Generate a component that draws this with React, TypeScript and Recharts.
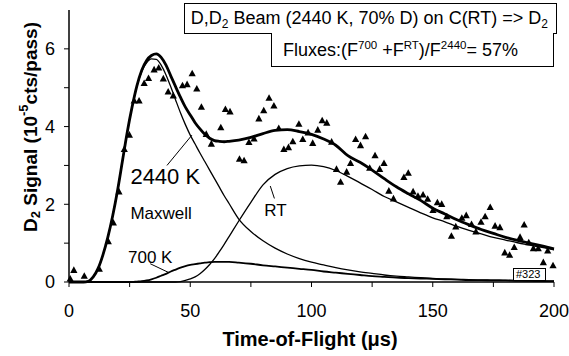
import {
  ComposedChart,
  Line,
  Scatter,
  XAxis,
  YAxis,
  Label,
  ReferenceLine,
  ReferenceDot,
} from "recharts";

// measured D2 signal (triangles)
const sampleT = [
  0.5, 2, 6.3, 12.5, 16.2, 18.3, 20.6, 22.8, 24.9, 26.9, 28.9, 31, 32.8, 35.1, 37, 38.9, 40.9, 43, 46.8,
  48.7, 50.8, 52.7, 54.6, 56.6, 58.7, 62.6, 64.5, 66.4, 70.3, 72.2, 74.2, 76.3, 78.3, 80.3, 82.5, 84.5,
  86.5, 88.6, 90.5, 92.3, 94.8, 96.4, 98.6, 100.5, 102.6, 104.4, 106.3, 108.3, 110.3, 112, 114.5, 116.1,
  118.2, 120.2, 122.3, 124, 126.2, 128.1, 129.9, 131.9, 133.8, 138.1, 139.9, 141.9, 143.9, 146, 147.9,
  150.1, 151.9, 153.7, 155.8, 157.7, 159.5, 162, 163.8, 166, 167.8, 169.9, 171.6, 173.7, 175.7, 177.7,
  179.7, 181.7, 183.6, 186, 187.7, 189.6, 191.5, 193.5, 195.6, 197.4, 199.6,
];
const sampleSignal = [
  0.08, 0.3, 0.15, 0.33, 1.04, 1.52, 2.32, 3.41, 3.78, 4.66, 4.66, 5.11, 5.24, 5.46, 5.51, 5.23, 4.89,
  4.79, 5.05, 5.08, 5.36, 4.97, 4.5, 3.8, 3.55, 3.97, 4.44, 4.38, 3.16, 3.12, 3.59, 3.68, 4.2, 4.41, 4.73,
  4.53, 3.95, 3.41, 3.46, 3.61, 4.06, 3.67, 3.84, 3.57, 3.91, 4.15, 4.09, 3.6, 2.9, 2.57, 2.83, 3.05,
  3.67, 3.51, 3.74, 2.93, 3.25, 2.9, 3.05, 2.34, 2.14, 2.69, 2.8, 2.32, 2.21, 2.24, 2.13, 1.84, 2.04, 2.0,
  1.68, 1.18, 1.42, 1.64, 1.71, 1.48, 1.29, 1.54, 1.68, 1.92, 1.44, 1.4, 0.75, 0.69, 0.89, 1.15, 1.47,
  1.01, 0.86, 0.86, 0.5, 0.8, 0.42,
];

// fitted curves
const curveT = [
  0, 2, 4, 6, 8, 10, 12, 14, 16, 18, 20, 22, 24, 26, 28, 30, 32, 34, 36, 38, 40, 42, 44, 46, 48, 50, 52,
  54, 56, 58, 60, 62, 64, 66, 70, 75, 80, 85, 90, 95, 100, 105, 110, 115, 120, 125, 130, 135, 140, 145,
  150, 155, 160, 165, 170, 175, 180, 185, 190, 195, 200,
];
const totalFit = [
  0, 0, 0, 0, 0.02, 0.13, 0.35, 0.7, 1.15, 1.7, 2.35, 3.1, 3.85, 4.5, 5.05, 5.45, 5.7, 5.83, 5.87, 5.78,
  5.58, 5.3, 5.02, 4.75, 4.5, 4.3, 4.1, 3.94, 3.8, 3.7, 3.64, 3.62, 3.61, 3.62, 3.65, 3.72, 3.82, 3.9,
  3.92, 3.87, 3.8, 3.68, 3.52, 3.25, 3.08, 2.88, 2.66, 2.45, 2.27, 2.1, 1.9, 1.75, 1.6, 1.47, 1.35, 1.25,
  1.15, 1.07, 1.0, 0.93, 0.85,
];
const maxwellFit = [
  0, 0, 0, 0, 0.02, 0.13, 0.35, 0.7, 1.15, 1.7, 2.35, 3.1, 3.85, 4.5, 5.04, 5.42, 5.64, 5.74, 5.73, 5.58,
  5.33, 5.02, 4.68, 4.35, 4.05, 3.78, 3.55, 3.32, 3.1, 2.88, 2.66, 2.44, 2.22, 2.02, 1.62, 1.3, 1.06,
  0.87, 0.72, 0.6, 0.51, 0.44, 0.37, 0.31, 0.26, 0.22, 0.18, 0.15, 0.13, 0.11, 0.09, 0.08, 0.07, 0.06,
  0.05, 0.05, 0.04, 0.04, 0.03, 0.03, 0.02,
];
const rtFit = [
  0, 0, 0, 0, 0, 0, 0, 0, 0, 0, 0, 0, 0, 0, 0, 0, 0, 0, 0, 0, 0, 0, 0, 0.01, 0.04, 0.08, 0.13, 0.21,
  0.32, 0.45, 0.6, 0.78, 0.97, 1.17, 1.57, 2.05, 2.5, 2.77, 2.92, 2.99, 3.01, 2.97, 2.87, 2.72, 2.55,
  2.38, 2.2, 2.06, 1.92, 1.78, 1.65, 1.55, 1.43, 1.33, 1.24, 1.15, 1.08, 1.01, 0.95, 0.89, 0.83,
];
const k700Fit = [
  0, 0, 0, 0, 0, 0, 0, 0, 0, 0, 0, 0, 0, 0, 0.01, 0.02, 0.04, 0.07, 0.11, 0.16, 0.21, 0.27, 0.32, 0.37,
  0.41, 0.44, 0.46, 0.48, 0.5, 0.51, 0.52, 0.52, 0.52, 0.52, 0.5, 0.47, 0.43, 0.4, 0.37, 0.34, 0.31,
  0.27, 0.24, 0.21, 0.18, 0.15, 0.13, 0.11, 0.1, 0.09, 0.08, 0.07, 0.06, 0.05, 0.05, 0.04, 0.04, 0.03,
  0.03, 0.02, 0.02,
];

const xTicks = [0, 25, 50, 75, 100, 125, 150, 175, 200];
const yTicks = [0, 1, 2, 3, 4, 5, 6];

const curves = curveT.map((t, i) => ({
  t,
  total: totalFit[i],
  maxwell: maxwellFit[i],
  rt: rtFit[i],
  k700: k700Fit[i],
}));
const samples = sampleT.map((t, i) => ({ t, signal: sampleSignal[i] }));

const FONT = "'Liberation Sans', Arial, Helvetica, sans-serif";

const Triangle = (props: any) => {
  const { cx, cy } = props;
  if (cx == null || cy == null) return null;
  return <polygon points={`${cx},${cy - 4} ${cx - 3.6},${cy + 2.6} ${cx + 3.6},${cy + 2.6}`} fill="#000" />;
};

const YTitle = () => (
  <text
    x={30}
    y={127}
    transform="rotate(-90 30 127)"
    textAnchor="middle"
    dominantBaseline="central"
    fontSize={19}
    fontWeight="bold"
    fontFamily={FONT}
    fill="#000"
  >
    D<tspan fontSize={13} dy={5}>2</tspan>
    <tspan dy={-5}> Signal (10</tspan>
    <tspan fontSize={13} dy={-7}>-5</tspan>
    <tspan dy={7}>cts/pass)</tspan>
  </text>
);

const XTitle = () => (
  <text x={310} y={346} textAnchor="middle" fontSize={20} fontWeight="bold" fontFamily={FONT} fill="#000">
    Time-of-Flight (μs)
  </text>
);

const sub = { fontSize: 12, position: "relative" as const, top: 4 };
const sup = { fontSize: 11.5, position: "relative" as const, top: -7 };

export default function App() {
  return (
    <div style={{ position: "absolute", left: 0, top: 0, width: 569, height: 356, background: "#fff", fontFamily: FONT }}>
      <ComposedChart width={569} height={356} data={curves} margin={{ top: 10, right: 15, bottom: 0, left: 0 }}>
        <XAxis
          dataKey="t"
          type="number"
          domain={[0, 200]}
          ticks={xTicks}
          tickFormatter={(v) => (v % 50 === 0 ? String(v) : "")}
          height={74}
          tickSize={5}
          tickMargin={17}
          tick={{ fill: "#000", fontSize: 18, fontFamily: FONT }}
          axisLine={{ stroke: "#000", strokeWidth: 1.5 }}
          tickLine={{ stroke: "#000" }}
        >
          <Label content={<XTitle />} />
        </XAxis>
        <XAxis xAxisId="top" orientation="top" type="number" domain={[0, 200]} height={0} tick={false} tickLine={false} axisLine={{ stroke: "#000" }} />
        <YAxis
          type="number"
          domain={[0, 7]}
          ticks={yTicks}
          tickFormatter={(v) => (v % 2 === 0 ? String(v) : "")}
          width={69}
          tickSize={5}
          tickMargin={9}
          tick={{ fill: "#000", fontSize: 18, fontFamily: FONT }}
          axisLine={{ stroke: "#000", strokeWidth: 1.5 }}
          tickLine={{ stroke: "#000" }}
        >
          <Label content={<YTitle />} />
        </YAxis>
        <YAxis yAxisId="right" orientation="right" domain={[0, 7]} width={0} tick={false} tickLine={false} axisLine={{ stroke: "#000", strokeWidth: 1.5 }} />

        <Line type="monotone" dataKey="k700" stroke="#000" strokeWidth={1.8} dot={false} isAnimationActive={false} />
        <Line type="monotone" dataKey="rt" stroke="#000" strokeWidth={1.3} dot={false} isAnimationActive={false} />
        <Line type="monotone" dataKey="maxwell" stroke="#000" strokeWidth={1.3} dot={false} isAnimationActive={false} />
        <Line type="monotone" dataKey="total" stroke="#000" strokeWidth={2.8} dot={false} isAnimationActive={false} />
        <Scatter data={samples} dataKey="signal" shape={<Triangle />} isAnimationActive={false} />

        <ReferenceLine segment={[{ x: 40.4, y: 3.0 }, { x: 50.7, y: 3.78 }]} stroke="#000" strokeWidth={1} />
        <ReferenceLine segment={[{ x: 33.5, y: 0.47 }, { x: 40.9, y: 0.25 }]} stroke="#000" strokeWidth={1} />
        <ReferenceLine segment={[{ x: 83, y: 2.47 }, { x: 84.7, y: 2.15 }]} stroke="#000" strokeWidth={1} />
        <ReferenceDot x={39.7} y={2.73} r={0} stroke="none" label={{ value: "2440 K", position: "center", fontSize: 22, fill: "#000", fontFamily: FONT }} />
        <ReferenceDot x={38} y={1.78} r={0} stroke="none" label={{ value: "Maxwell", position: "center", fontSize: 17, fill: "#000", fontFamily: FONT }} />
        <ReferenceDot x={33.5} y={0.64} r={0} stroke="none" label={{ value: "700 K", position: "center", fontSize: 17, fill: "#000", fontFamily: FONT }} />
        <ReferenceDot x={85.1} y={1.85} r={0} stroke="none" label={{ value: "RT", position: "center", fontSize: 17, fill: "#000", fontFamily: FONT }} />
      </ComposedChart>

      <div
        style={{
          position: "absolute", right: 12, top: 3, height: 31, boxSizing: "border-box", border: "1px solid #000",
          background: "#fff", fontSize: 18, lineHeight: "29px", padding: "0 8px 0 6px", whiteSpace: "nowrap",
        }}
      >
        D,D<span style={sub}>2</span> Beam (2440 K, 70% D) on C(RT) =&gt; D<span style={sub}>2</span>
      </div>
      <div
        style={{
          position: "absolute", left: 271, top: 33, width: 283, height: 34, boxSizing: "border-box", border: "1px solid #000",
          borderTop: "none", background: "#fff", fontSize: 18, lineHeight: "35px", paddingLeft: 11, whiteSpace: "nowrap",
        }}
      >
        Fluxes:(F<span style={sup}>700</span> +F<span style={sup}>RT</span>)/F<span style={sup}>2440</span>= 57%
      </div>
      <div
        style={{
          position: "absolute", left: 513, top: 268, width: 33, height: 13, boxSizing: "border-box", border: "1px solid #000",
          background: "#fff", fontSize: 11, lineHeight: "11px", paddingLeft: 2, whiteSpace: "nowrap",
        }}
      >
        #323
      </div>
    </div>
  );
}
